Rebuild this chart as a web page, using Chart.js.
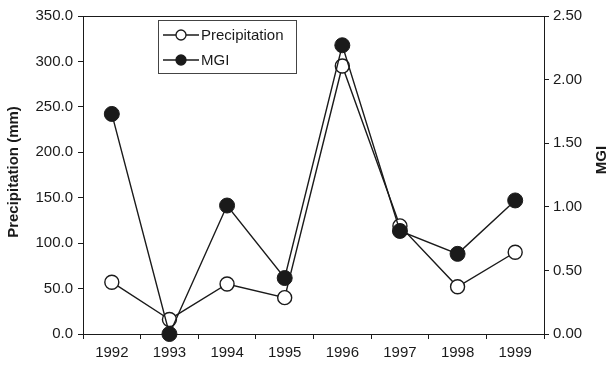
<!DOCTYPE html>
<html>
<head>
<meta charset="utf-8">
<script src="https://cdn.jsdelivr.net/npm/chart.js@4.4.0/dist/chart.umd.min.js"></script>
<style>
  body { margin: 0; background: #fff; }
  #wrap { width: 611px; height: 367px; }
</style>
</head>
<body>
<div id="wrap"><canvas id="myChart" width="611" height="367"></canvas></div>
<script>
// values
var years = ['1992', '1993', '1994', '1995', '1996', '1997', '1998', '1999'];
var precipitation = [57, 16, 55, 40, 295, 119, 52, 90];
var mgi = [1.73, 0.0, 1.01, 0.44, 2.27, 0.81, 0.63, 1.05];

var precipMax = 350, precipStep = 50;
var mgiMax = 2.5, mgiStep = 0.5;

var FONT = '"Liberation Sans", Arial, sans-serif';
var INK = '#1a1a1a';

// frame top line, axis titles and the boxed legend
var extras = {
    id: 'extras',
    afterDraw: function (chart) {
        var ctx = chart.ctx;
        var a = chart.chartArea;
        ctx.save();
        ctx.strokeStyle = INK;
        ctx.lineWidth = 1;
        ctx.beginPath();
        ctx.moveTo(a.left, a.top + 0.5);
        ctx.lineTo(a.right, a.top + 0.5);
        ctx.stroke();

        ctx.fillStyle = INK;
        ctx.font = 'bold 15px ' + FONT;
        ctx.textAlign = 'center';
        ctx.textBaseline = 'middle';
        ctx.save();
        ctx.translate(14, 172);
        ctx.rotate(-Math.PI / 2);
        ctx.fillText('Precipitation (mm)', 0, 0);
        ctx.restore();
        ctx.save();
        ctx.translate(602, 160);
        ctx.rotate(-Math.PI / 2);
        ctx.fillText('MGI', 0, 0);
        ctx.restore();

        // legend
        var bx = 158.5, by = 20.5, bw = 138, bh = 53;
        ctx.strokeStyle = '#444';
        ctx.lineWidth = 1;
        ctx.strokeRect(bx, by, bw, bh);
        ctx.font = '15px ' + FONT;
        ctx.textAlign = 'left';
        var rows = [35, 60];
        chart.data.datasets.forEach(function (ds, i) {
            var y = rows[i];
            ctx.strokeStyle = INK;
            ctx.lineWidth = 1.3;
            ctx.beginPath();
            ctx.moveTo(163, y);
            ctx.lineTo(199, y);
            ctx.stroke();
            ctx.beginPath();
            ctx.arc(181, y, 5, 0, Math.PI * 2);
            ctx.fillStyle = ds.pointBackgroundColor;
            ctx.fill();
            ctx.stroke();
            ctx.fillStyle = INK;
            ctx.fillText(ds.label, 201, y + 1);
        });
        ctx.restore();
    }
};

var ctx = document.getElementById('myChart');
window.myChart = new Chart(ctx, {
    type: 'line',
    data: {
        labels: years,
        datasets: [
            {
                label: 'Precipitation',
                data: precipitation,
                yAxisID: 'y',
                order: 2,
                borderColor: INK,
                borderWidth: 1.4,
                pointRadius: 7,
                pointBorderWidth: 1.4,
                pointBackgroundColor: '#ffffff',
                pointBorderColor: INK,
                tension: 0,
                clip: false
            },
            {
                label: 'MGI',
                data: mgi,
                yAxisID: 'y1',
                order: 1,
                borderColor: INK,
                borderWidth: 1.4,
                pointRadius: 7.5,
                pointBorderWidth: 1,
                pointBackgroundColor: INK,
                pointBorderColor: INK,
                tension: 0,
                clip: false
            }
        ]
    },
    options: {
        responsive: false,
        animation: false,
        layout: { padding: { top: 16, left: 0, right: 0, bottom: 0 } },
        plugins: {
            legend: { display: false },
            tooltip: { enabled: false }
        },
        scales: {
            x: {
                type: 'category',
                offset: true,
                grid: { offset: true, drawOnChartArea: false, tickLength: 5, color: INK },
                border: { color: INK, width: 1 },
                ticks: { color: INK, font: { family: FONT, size: 15 }, padding: 5, maxRotation: 0 },
                afterFit: function (s) { s.height = 33; }
            },
            y: {
                position: 'left',
                min: 0,
                max: precipMax,
                grid: { drawOnChartArea: false, tickLength: 5, color: INK },
                border: { color: INK, width: 1 },
                ticks: {
                    stepSize: precipStep,
                    color: INK,
                    font: { family: FONT, size: 15 },
                    padding: 5,
                    callback: function (v) { return v.toFixed(1); }
                },
                afterFit: function (s) { s.width = 83; }
            },
            y1: {
                position: 'right',
                min: 0,
                max: mgiMax,
                grid: { drawOnChartArea: false, tickLength: 5, color: INK },
                border: { color: INK, width: 1 },
                ticks: {
                    stepSize: mgiStep,
                    color: INK,
                    font: { family: FONT, size: 15 },
                    padding: 4,
                    callback: function (v) { return v.toFixed(2); }
                },
                afterFit: function (s) { s.width = 67; }
            }
        }
    },
    plugins: [extras]
});
</script>
</body>
</html>
